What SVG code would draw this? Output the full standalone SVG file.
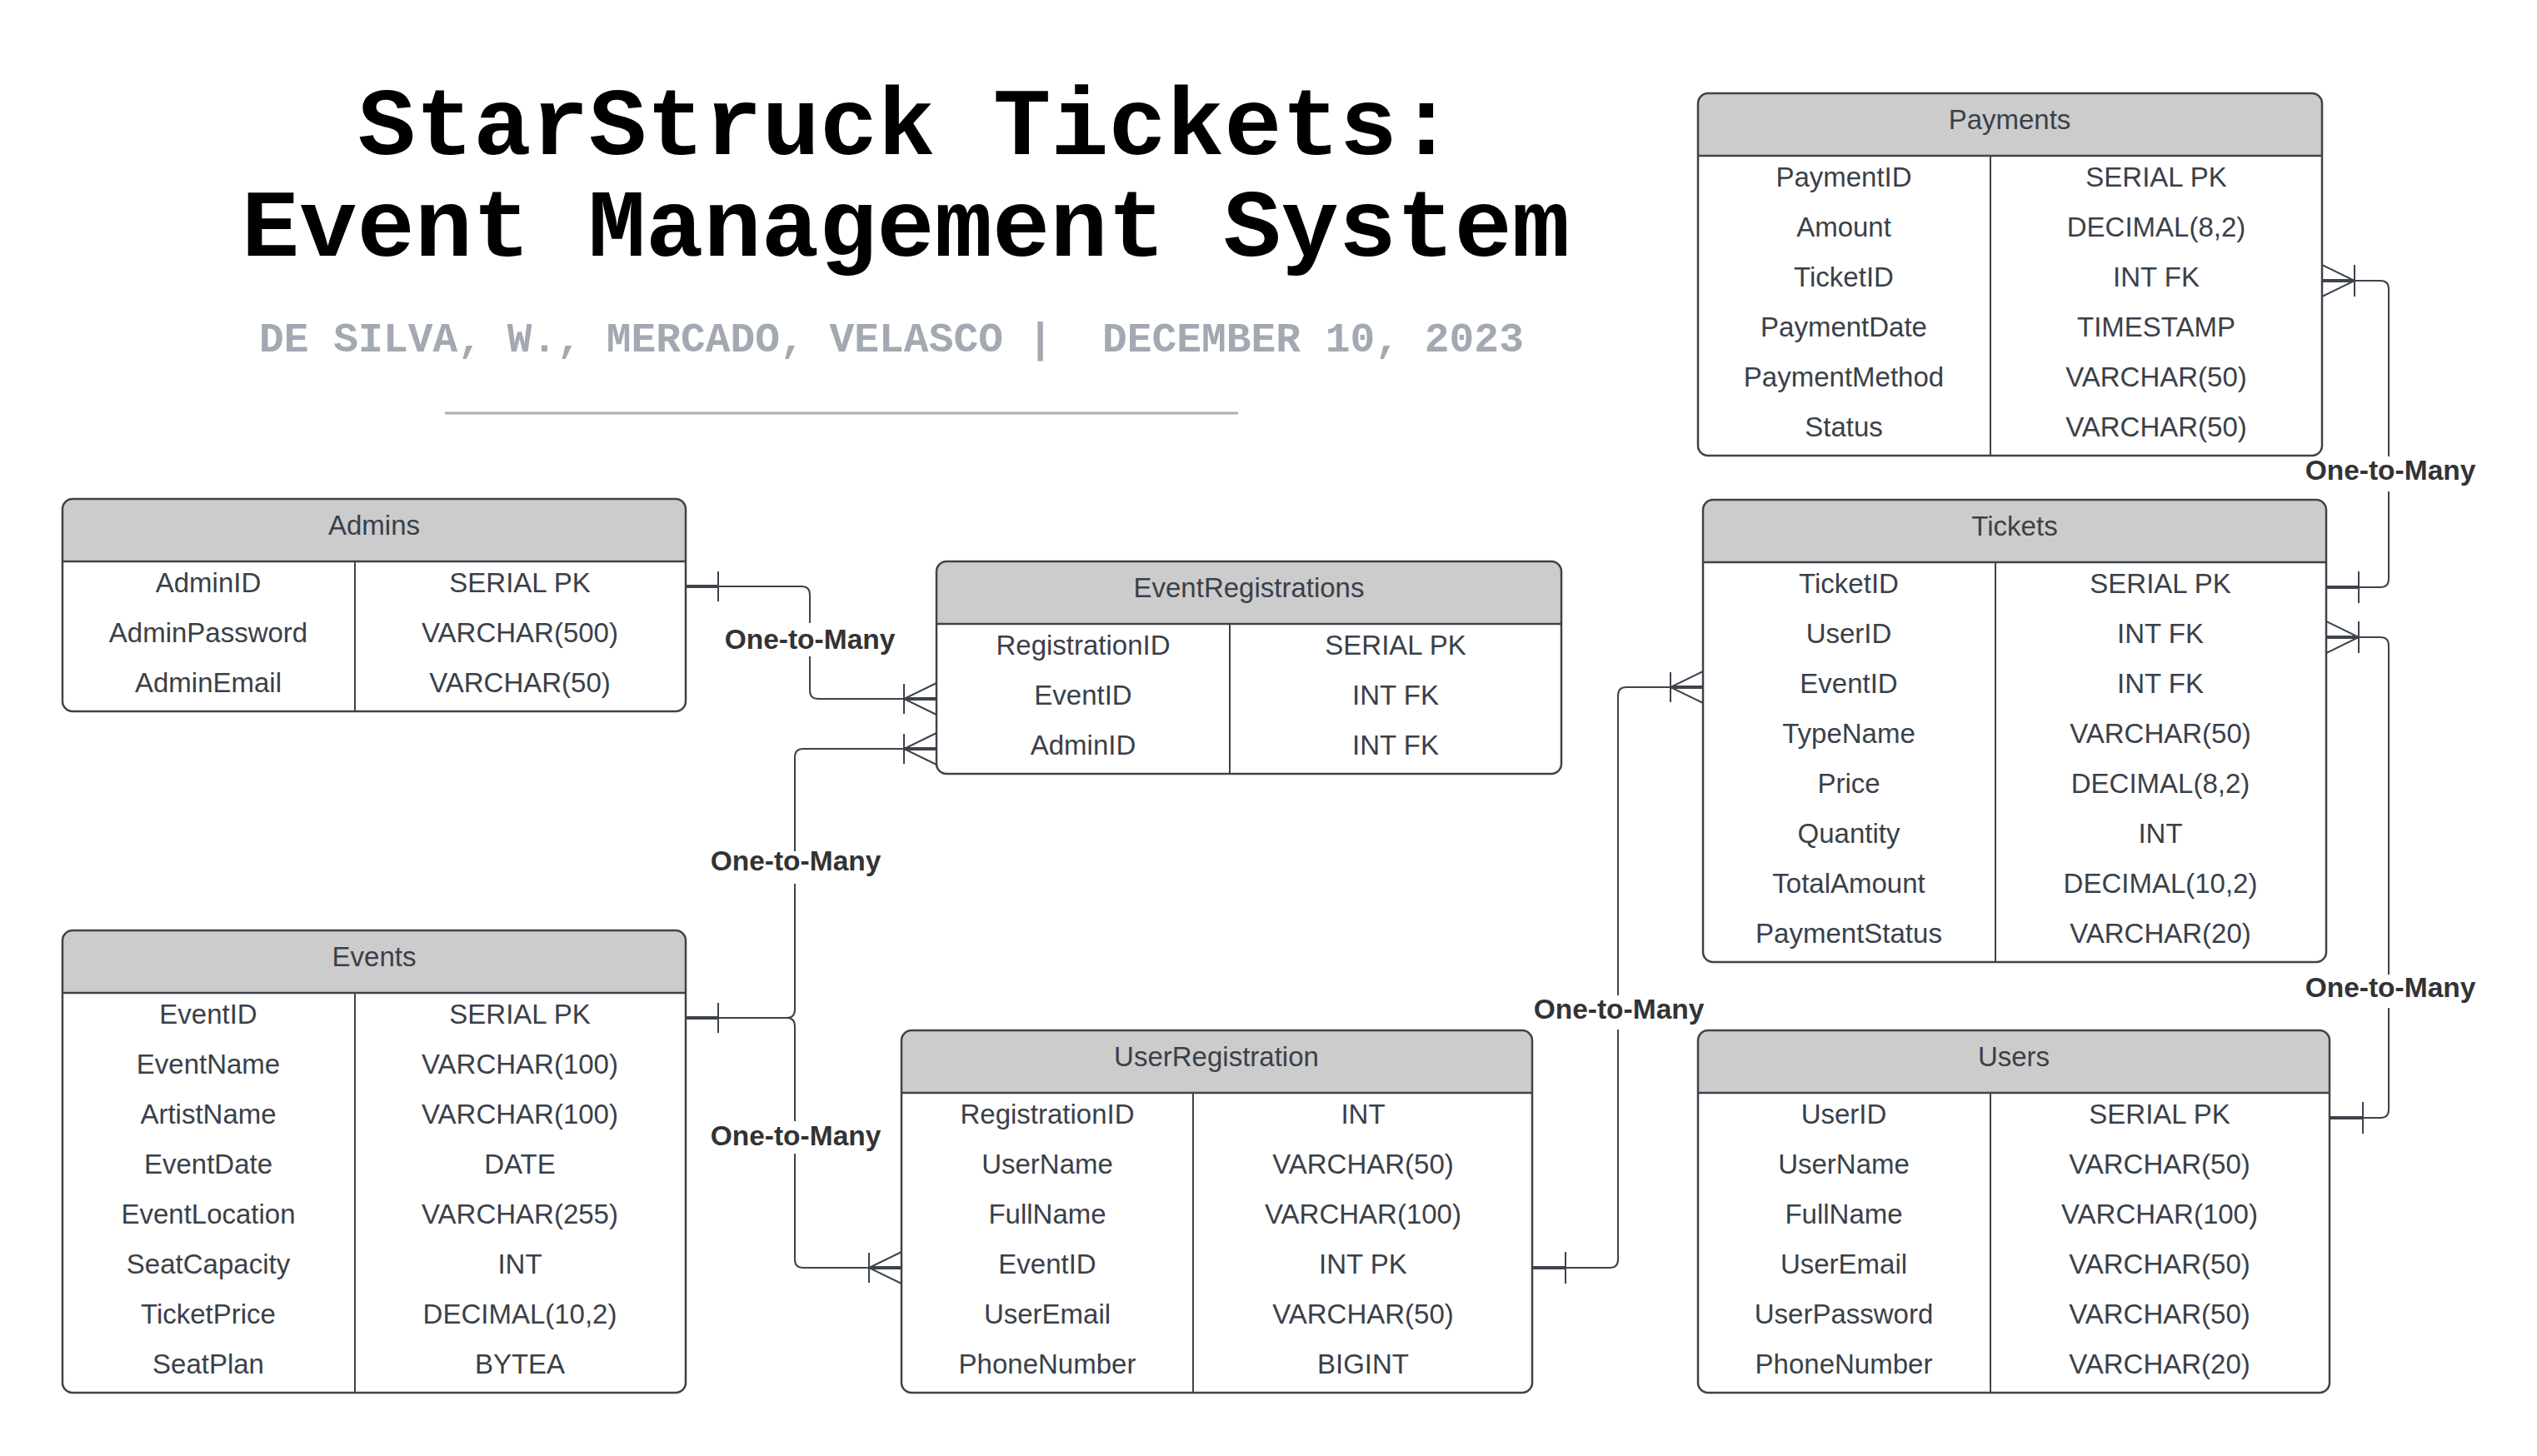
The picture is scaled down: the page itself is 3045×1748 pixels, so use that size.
<svg xmlns="http://www.w3.org/2000/svg" width="3045" height="1748" viewBox="0 0 3045 1748">
<style>
.box{fill:#fff;stroke:none}
.brd{fill:none;stroke:#3d434b;stroke-width:2.5}
.hdr{fill:#cccccc;stroke:none}
.sep{stroke:#3d434b;stroke-width:2.5}
.div{stroke:#3d434b;stroke-width:2}
.t{font-family:"Liberation Sans",Arial,sans-serif;font-size:33px;fill:#3a4049;text-anchor:middle}
.ln{fill:none;stroke:#3d434b;stroke-width:2}
.stub{fill:none;stroke:#3d434b;stroke-width:4}
.lbl{font-family:"Liberation Sans",Arial,sans-serif;font-size:33.5px;font-weight:bold;fill:#333333;text-anchor:middle}
.lbg{fill:#fff}
.title{font-family:"Liberation Mono","DejaVu Sans Mono",monospace;font-weight:bold;font-size:115.5px;fill:#000;text-anchor:middle}
.sub{font-family:"Liberation Mono","DejaVu Sans Mono",monospace;font-weight:bold;font-size:49.6px;fill:#a3a9b2;text-anchor:middle}
</style>
<rect width="3045" height="1748" fill="#fff"/>

<g id="title">
<text class="title" x="1088" y="185">StarStruck Tickets:</text>
<text class="title" x="1087" y="307">Event Management System</text>
<text class="sub" x="1070" y="422" xml:space="preserve">DE SILVA, W., MERCADO, VELASCO |  DECEMBER 10, 2023</text>
<line x1="534" y1="496" x2="1486" y2="496" stroke="#a9afb8" stroke-width="3"/>
</g>

<g id="connectors">
<!-- Admins -> EventRegistrations -->
<path class="ln" d="M823 704 H962 Q972 704 972 714 V829 Q972 839 982 839 H1124"/>
<line class="stub" x1="823" y1="704" x2="862" y2="704"/>
<line class="ln" x1="862" y1="686" x2="862" y2="722"/>
<line class="stub" x1="1085" y1="839" x2="1124" y2="839"/>
<path class="ln" d="M1085 821 V857 M1124 820 L1085 839 L1124 858"/>
<rect class="lbg" x="864" y="748" width="216" height="40"/>
<text class="lbl" x="972" y="779">One-to-Many</text>

<!-- Events -> EventRegistrations -->
<path class="ln" d="M823 1222 H944 Q954 1222 954 1212 V909 Q954 899 964 899 H1124"/>
<line class="stub" x1="823" y1="1222" x2="862" y2="1222"/>
<line class="ln" x1="862" y1="1204" x2="862" y2="1240"/>
<line class="stub" x1="1085" y1="899" x2="1124" y2="899"/>
<path class="ln" d="M1085 881 V917 M1124 880 L1085 899 L1124 918"/>
<rect class="lbg" x="847" y="1022" width="216" height="39"/>
<text class="lbl" x="955" y="1045">One-to-Many</text>

<!-- Events -> UserRegistration -->
<path class="ln" d="M823 1222 H944 Q954 1222 954 1232 V1512 Q954 1522 964 1522 H1082"/>
<line class="stub" x1="1043" y1="1522" x2="1082" y2="1522"/>
<path class="ln" d="M1043 1504 V1540 M1082 1503 L1043 1522 L1082 1541"/>
<rect class="lbg" x="847" y="1346" width="216" height="39"/>
<text class="lbl" x="955" y="1375">One-to-Many</text>

<!-- UserRegistration -> Tickets -->
<path class="ln" d="M1839 1522 H1932 Q1942 1522 1942 1512 V835 Q1942 825 1952 825 H2044"/>
<line class="stub" x1="1839" y1="1522" x2="1879" y2="1522"/>
<line class="ln" x1="1879" y1="1503" x2="1879" y2="1541"/>
<line class="stub" x1="2005" y1="825" x2="2044" y2="825"/>
<path class="ln" d="M2005 807 V843 M2044 806 L2005 825 L2044 844"/>
<rect class="lbg" x="1835" y="1195" width="216" height="41"/>
<text class="lbl" x="1943" y="1223">One-to-Many</text>

<!-- Payments -> Tickets -->
<path class="ln" d="M2787 337 H2857 Q2867 337 2867 347 V695 Q2867 705 2857 705 H2792"/>
<line class="stub" x1="2787" y1="337" x2="2826" y2="337"/>
<path class="ln" d="M2826 318 V356 M2787 318 L2826 337 L2787 356"/>
<line class="stub" x1="2792" y1="705" x2="2831" y2="705"/>
<line class="ln" x1="2831" y1="686" x2="2831" y2="724"/>
<rect class="lbg" x="2761" y="548" width="216" height="42"/>
<text class="lbl" x="2869" y="576">One-to-Many</text>

<!-- Users -> Tickets -->
<path class="ln" d="M2796 1342 H2857 Q2867 1342 2867 1332 V775 Q2867 765 2857 765 H2792"/>
<line class="stub" x1="2796" y1="1342" x2="2836" y2="1342"/>
<line class="ln" x1="2836" y1="1323" x2="2836" y2="1361"/>
<line class="stub" x1="2792" y1="765" x2="2831" y2="765"/>
<path class="ln" d="M2831 746 V784 M2792 746 L2831 765 L2792 784"/>
<rect class="lbg" x="2761" y="1170" width="216" height="40"/>
<text class="lbl" x="2869" y="1197">One-to-Many</text>
</g>

<g id="admins">
<rect class="box" x="75" y="599" width="748" height="255" rx="12"/>
<path class="hdr" d="M75 674 V611 A12 12 0 0 1 87 599 H811 A12 12 0 0 1 823 611 V674 Z"/>
<line class="sep" x1="75" y1="674" x2="823" y2="674"/>
<line class="div" x1="426" y1="674" x2="426" y2="854"/>
<rect class="brd" x="75" y="599" width="748" height="255" rx="12"/>
<text class="t" x="449" y="642">Admins</text>
<text class="t" x="250" y="711">AdminID</text><text class="t" x="624" y="711">SERIAL PK</text>
<text class="t" x="250" y="771">AdminPassword</text><text class="t" x="624" y="771">VARCHAR(500)</text>
<text class="t" x="250" y="831">AdminEmail</text><text class="t" x="624" y="831">VARCHAR(50)</text>
</g>

<g id="eventregistrations">
<rect class="box" x="1124" y="674" width="750" height="255" rx="12"/>
<path class="hdr" d="M1124 749 V686 A12 12 0 0 1 1136 674 H1862 A12 12 0 0 1 1874 686 V749 Z"/>
<line class="sep" x1="1124" y1="749" x2="1874" y2="749"/>
<line class="div" x1="1476" y1="749" x2="1476" y2="929"/>
<rect class="brd" x="1124" y="674" width="750" height="255" rx="12"/>
<text class="t" x="1499" y="717">EventRegistrations</text>
<text class="t" x="1300" y="786">RegistrationID</text><text class="t" x="1675" y="786">SERIAL PK</text>
<text class="t" x="1300" y="846">EventID</text><text class="t" x="1675" y="846">INT FK</text>
<text class="t" x="1300" y="906">AdminID</text><text class="t" x="1675" y="906">INT FK</text>
</g>

<g id="payments">
<rect class="box" x="2038" y="112" width="749" height="435" rx="12"/>
<path class="hdr" d="M2038 187 V124 A12 12 0 0 1 2050 112 H2775 A12 12 0 0 1 2787 124 V187 Z"/>
<line class="sep" x1="2038" y1="187" x2="2787" y2="187"/>
<line class="div" x1="2389" y1="187" x2="2389" y2="547"/>
<rect class="brd" x="2038" y="112" width="749" height="435" rx="12"/>
<text class="t" x="2412" y="155">Payments</text>
<text class="t" x="2213" y="224">PaymentID</text><text class="t" x="2588" y="224">SERIAL PK</text>
<text class="t" x="2213" y="284">Amount</text><text class="t" x="2588" y="284">DECIMAL(8,2)</text>
<text class="t" x="2213" y="344">TicketID</text><text class="t" x="2588" y="344">INT FK</text>
<text class="t" x="2213" y="404">PaymentDate</text><text class="t" x="2588" y="404">TIMESTAMP</text>
<text class="t" x="2213" y="464">PaymentMethod</text><text class="t" x="2588" y="464">VARCHAR(50)</text>
<text class="t" x="2213" y="524">Status</text><text class="t" x="2588" y="524">VARCHAR(50)</text>
</g>

<g id="tickets">
<rect class="box" x="2044" y="600" width="748" height="555" rx="12"/>
<path class="hdr" d="M2044 675 V612 A12 12 0 0 1 2056 600 H2780 A12 12 0 0 1 2792 612 V675 Z"/>
<line class="sep" x1="2044" y1="675" x2="2792" y2="675"/>
<line class="div" x1="2395" y1="675" x2="2395" y2="1155"/>
<rect class="brd" x="2044" y="600" width="748" height="555" rx="12"/>
<text class="t" x="2418" y="643">Tickets</text>
<text class="t" x="2219" y="712">TicketID</text><text class="t" x="2593" y="712">SERIAL PK</text>
<text class="t" x="2219" y="772">UserID</text><text class="t" x="2593" y="772">INT FK</text>
<text class="t" x="2219" y="832">EventID</text><text class="t" x="2593" y="832">INT FK</text>
<text class="t" x="2219" y="892">TypeName</text><text class="t" x="2593" y="892">VARCHAR(50)</text>
<text class="t" x="2219" y="952">Price</text><text class="t" x="2593" y="952">DECIMAL(8,2)</text>
<text class="t" x="2219" y="1012">Quantity</text><text class="t" x="2593" y="1012">INT</text>
<text class="t" x="2219" y="1072">TotalAmount</text><text class="t" x="2593" y="1072">DECIMAL(10,2)</text>
<text class="t" x="2219" y="1132">PaymentStatus</text><text class="t" x="2593" y="1132">VARCHAR(20)</text>
</g>

<g id="events">
<rect class="box" x="75" y="1117" width="748" height="555" rx="12"/>
<path class="hdr" d="M75 1192 V1129 A12 12 0 0 1 87 1117 H811 A12 12 0 0 1 823 1129 V1192 Z"/>
<line class="sep" x1="75" y1="1192" x2="823" y2="1192"/>
<line class="div" x1="426" y1="1192" x2="426" y2="1672"/>
<rect class="brd" x="75" y="1117" width="748" height="555" rx="12"/>
<text class="t" x="449" y="1160">Events</text>
<text class="t" x="250" y="1229">EventID</text><text class="t" x="624" y="1229">SERIAL PK</text>
<text class="t" x="250" y="1289">EventName</text><text class="t" x="624" y="1289">VARCHAR(100)</text>
<text class="t" x="250" y="1349">ArtistName</text><text class="t" x="624" y="1349">VARCHAR(100)</text>
<text class="t" x="250" y="1409">EventDate</text><text class="t" x="624" y="1409">DATE</text>
<text class="t" x="250" y="1469">EventLocation</text><text class="t" x="624" y="1469">VARCHAR(255)</text>
<text class="t" x="250" y="1529">SeatCapacity</text><text class="t" x="624" y="1529">INT</text>
<text class="t" x="250" y="1589">TicketPrice</text><text class="t" x="624" y="1589">DECIMAL(10,2)</text>
<text class="t" x="250" y="1649">SeatPlan</text><text class="t" x="624" y="1649">BYTEA</text>
</g>

<g id="userregistration">
<rect class="box" x="1082" y="1237" width="757" height="435" rx="12"/>
<path class="hdr" d="M1082 1312 V1249 A12 12 0 0 1 1094 1237 H1827 A12 12 0 0 1 1839 1249 V1312 Z"/>
<line class="sep" x1="1082" y1="1312" x2="1839" y2="1312"/>
<line class="div" x1="1432" y1="1312" x2="1432" y2="1672"/>
<rect class="brd" x="1082" y="1237" width="757" height="435" rx="12"/>
<text class="t" x="1460" y="1280">UserRegistration</text>
<text class="t" x="1257" y="1349">RegistrationID</text><text class="t" x="1636" y="1349">INT</text>
<text class="t" x="1257" y="1409">UserName</text><text class="t" x="1636" y="1409">VARCHAR(50)</text>
<text class="t" x="1257" y="1469">FullName</text><text class="t" x="1636" y="1469">VARCHAR(100)</text>
<text class="t" x="1257" y="1529">EventID</text><text class="t" x="1636" y="1529">INT PK</text>
<text class="t" x="1257" y="1589">UserEmail</text><text class="t" x="1636" y="1589">VARCHAR(50)</text>
<text class="t" x="1257" y="1649">PhoneNumber</text><text class="t" x="1636" y="1649">BIGINT</text>
</g>

<g id="users">
<rect class="box" x="2038" y="1237" width="758" height="435" rx="12"/>
<path class="hdr" d="M2038 1312 V1249 A12 12 0 0 1 2050 1237 H2784 A12 12 0 0 1 2796 1249 V1312 Z"/>
<line class="sep" x1="2038" y1="1312" x2="2796" y2="1312"/>
<line class="div" x1="2389" y1="1312" x2="2389" y2="1672"/>
<rect class="brd" x="2038" y="1237" width="758" height="435" rx="12"/>
<text class="t" x="2417" y="1280">Users</text>
<text class="t" x="2213" y="1349">UserID</text><text class="t" x="2592" y="1349">SERIAL PK</text>
<text class="t" x="2213" y="1409">UserName</text><text class="t" x="2592" y="1409">VARCHAR(50)</text>
<text class="t" x="2213" y="1469">FullName</text><text class="t" x="2592" y="1469">VARCHAR(100)</text>
<text class="t" x="2213" y="1529">UserEmail</text><text class="t" x="2592" y="1529">VARCHAR(50)</text>
<text class="t" x="2213" y="1589">UserPassword</text><text class="t" x="2592" y="1589">VARCHAR(50)</text>
<text class="t" x="2213" y="1649">PhoneNumber</text><text class="t" x="2592" y="1649">VARCHAR(20)</text>
</g>
</svg>
